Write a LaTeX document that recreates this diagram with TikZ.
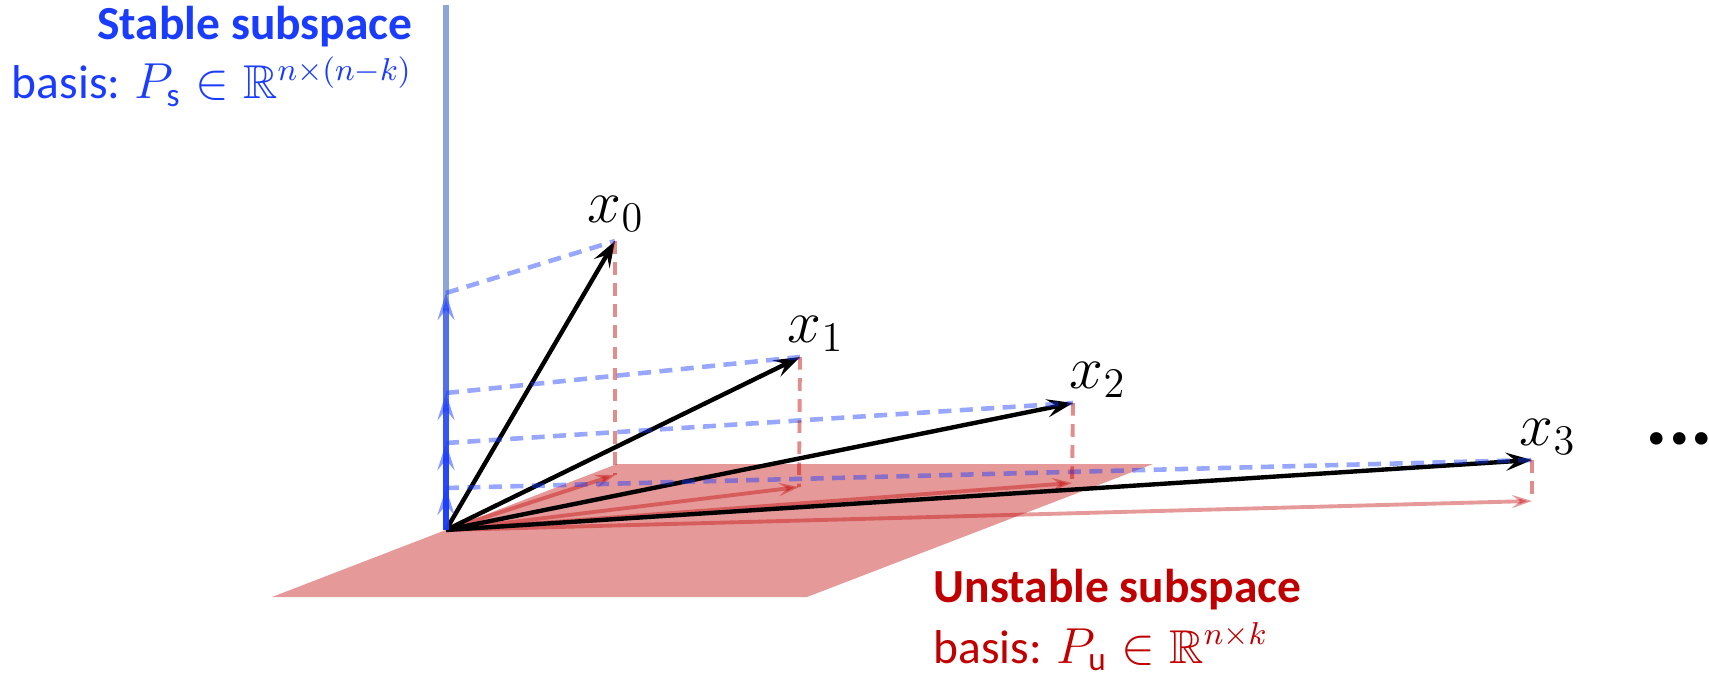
\documentclass[tikz,border=0pt]{standalone}
\usepackage{amssymb,amsmath}
\usepackage{fontspec}
\setmainfont{Carlito}
\usetikzlibrary{arrows.meta}
\definecolor{mblue}{RGB}{25,60,255}
\definecolor{mred}{RGB}{192,0,0}
\definecolor{axisblue}{RGB}{141,166,214}
\tikzset{
    vec/.style={black, line width=1.25pt, -{Stealth[length=2.6mm, width=1.8mm, inset=1mm]}},
    svec/.style={mblue, opacity=0.5, line width=1.7pt, -{Stealth[length=2.7mm, width=1.7mm, inset=1mm]}},
    uvec/.style={mred, opacity=0.4, line width=1.1pt, -{Stealth[length=2mm, width=1.3mm, inset=0.8mm]}},
    sproj/.style={mblue, opacity=0.45, line width=1.3pt, dash pattern=on 3.7pt off 2.4pt},
    uproj/.style={mred, opacity=0.45, line width=1.1pt, dash pattern=on 3.6pt off 2.4pt},
    lbl/.style={inner sep=0, anchor=base west, font=\fontsize{18.5}{20}\selectfont},
    stxt/.style={inner sep=0, anchor=base east, mblue, font=\fontsize{13.5}{16}\selectfont},
    utxt/.style={inner sep=0, anchor=base west, mred, font=\fontsize{13.5}{16}\selectfont},
}

\begin{document}
\begin{tikzpicture}[x=0.01cm, y=-0.01cm]
    \useasboundingbox (0,0) rectangle (1709,676);
    % origin, stable axis top
    \coordinate (O) at (446,530);
    \coordinate (top) at (446,5);
    % states
    \coordinate (x0) at (615,241);
    \coordinate (x1) at (800,357);
    \coordinate (x2) at (1073,403);
    \coordinate (x3) at (1532,460);
    % stable parts
    \coordinate (s0) at (446,293);
    \coordinate (s1) at (446,393);
    \coordinate (s2) at (446,443);
    \coordinate (s3) at (446,488);
    % unstable parts
    \coordinate (u0) at (615,475);
    \coordinate (u1) at (799,487);
    \coordinate (u2) at (1072,483);
    \coordinate (u3) at (1532,501);

    % unstable plane
    \fill[mred, opacity=0.4] (272,597) -- (807,597) -- (1153,464) -- (617,464) -- cycle;
    % stable axis
    \draw[axisblue, line width=1.7pt] (top) -- (O);

    \draw[uvec] (O) -- (u0);
    \draw[uvec] (O) -- (u1);
    \draw[uvec] (O) -- (u2);
    \draw[uvec] (O) -- (u3);

    \draw[vec] (O) -- (x0);
    \draw[vec] (O) -- (x1);
    \draw[vec] (O) -- (x2);
    \draw[vec] (O) -- (x3);

    \draw[svec] (O) -- (s3);
    \draw[svec] (O) -- (s2);
    \draw[svec] (O) -- (s1);
    \draw[svec] (O) -- (s0);

    \draw[sproj] (s0) -- (x0);
    \draw[sproj] (s1) -- (x1);
    \draw[sproj] (s2) -- (x2);
    \draw[sproj] (s3) -- (x3);

    \draw[uproj] (x0) -- (u0);
    \draw[uproj] (x1) -- (u1);
    \draw[uproj] (x2) -- (u2);
    \draw[uproj] (x3) -- (u3);

    \node[lbl] (l0) at (587,222) {$x_0$};
    \node[lbl] (l1) at (787,342) {$x_1$};
    \node[lbl] (l2) at (1069,388) {$x_2$};
    \node[lbl] (l3) at (1519,445) {$x_3$};
    \node[inner sep=0, anchor=base west, font=\fontsize{24}{24}\selectfont\bfseries] (dots) at (1645,444) {...};

    \node[stxt] (stitle) at (413,40) {\bfseries Stable subspace};
    \node[stxt] (sbasis) at (413,99) {basis: $P_{\mathrm{s}}\in\mathbb{R}^{n\times(n-k)}$};
    \node[utxt] (utitle) at (933,602) {\bfseries Unstable subspace};
    \node[utxt] (ubasis) at (933,663) {basis: $P_{\mathrm{u}}\in\mathbb{R}^{n\times k}$};
\end{tikzpicture}
\end{document}
